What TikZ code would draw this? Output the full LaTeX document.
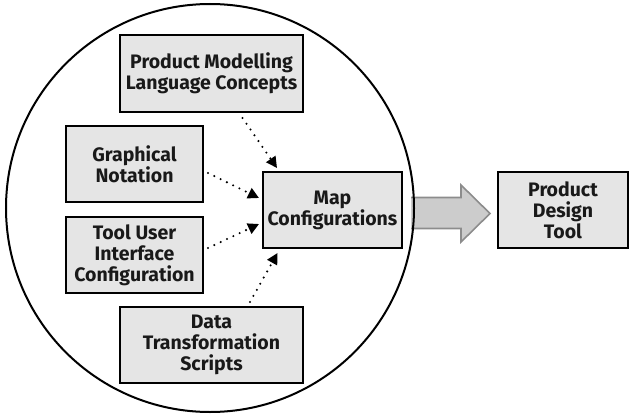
\documentclass[tikz,border=0pt]{standalone}
\usepackage{fontspec}
\setmainfont{Fira Sans}
\usetikzlibrary{arrows.meta,calc}
\begin{document}
\begin{tikzpicture}[x=1pt,y=1pt,
  box/.style={draw=black, line width=2pt, fill=black!10, rectangle, align=center,
    inner sep=0pt, font=\fontsize{19.5}{21}\selectfont\bfseries, text=black!90},
  feed/.style={line width=2.3pt, line cap=round, dash pattern=on 0pt off 7pt,
    -{Triangle[length=11pt,width=11pt,line cap=butt]}},
  bigarrow/.style={fill=black!20, draw=black!45, line width=1.6pt, line join=miter}]
\useasboundingbox (0,0) rectangle (634,416);

% boxes inside the ring
\node[box, minimum width=183, minimum height=77] (pmlc) at (211.5,342.5)
  {Product Modelling\\Language Concepts};
\node[box, minimum width=137, minimum height=76] (graph) at (134.5,252)
  {Graphical\\Notation};
\node[box, minimum width=137, minimum height=76] (toolui) at (134.5,161)
  {Tool User\\Interface\\Configuration};
\node[box, minimum width=183, minimum height=76] (data) at (211.5,71)
  {Data\\Transformation\\Scripts};
\node[box, minimum width=139, minimum height=76] (map) at (332.5,206)
  {Map\\Configurations};
\node[box, minimum width=130, minimum height=76] (pdt) at (563,206)
  {Product\\Design\\Tool};

% broad output arrow from the ring to the design tool
\coordinate (tip) at ($(pdt.west)+(-7,-3.5)$);
\coordinate (tail) at ($(map.east)+(8,-3)$);
\draw[bigarrow]
  ($(tail)+(0,15.5)$) -- ($(tip)+(-29,16)$) -- ($(tip)+(-29,28.5)$) -- (tip)
  -- ($(tip)+(-29,-28.5)$) -- ($(tip)+(-29,-15)$) -- ($(tail)+(0,-15.5)$);

% enclosing ring
\node[circle, draw=black, line width=2pt, minimum size=408, inner sep=0pt] (ring) at (210,208) {};

% dotted feeds into the map configurations
\draw[feed] ($(pmlc.south)+(31,-5)$) -- ($(map.north west)+(15,3)$);
\draw[feed] ($(graph.east)+(4,-9)$) -- ($(map.west)+(-3,12)$);
\draw[feed] ($(toolui.east)+(4,7)$) -- ($(map.west)+(-3,-14)$);
\draw[feed] ($(data.north)+(38.5,4)$) -- ($(map.south)+(-55,-4)$);
\end{tikzpicture}
\end{document}
